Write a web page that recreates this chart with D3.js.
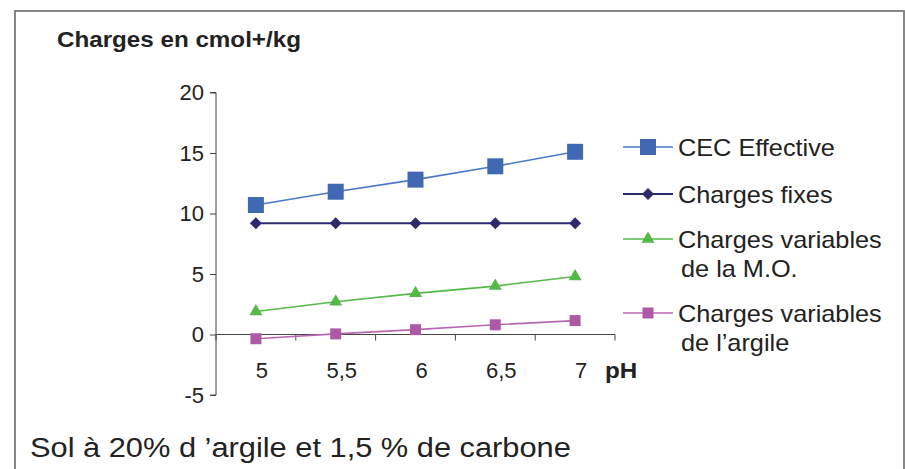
<!DOCTYPE html>
<html>
<head>
<meta charset="utf-8">
<script src="https://cdn.jsdelivr.net/npm/d3@7"></script>
<style>
  body { margin: 0; background: #fff; }
  svg text { font-family: "Liberation Sans", Arial, sans-serif; fill: #222; }
</style>
</head>
<body>
<div id="chart"></div>
<script>
var categories = ["5", "5,5", "6", "6,5", "7"];
var cecEffective = [10.7, 11.8, 12.8, 13.9, 15.1];
var chargesFixes = [9.2, 9.2, 9.2, 9.2, 9.2];
var variablesMO = [1.9, 2.7, 3.4, 4.0, 4.8];
var variablesArgile = [-0.35, 0.05, 0.4, 0.8, 1.15];
var yTicks = [-5, 0, 5, 10, 15, 20];

var width = 905;
var height = 469;
var stretch = 1.1; // the original lettering is a bit wider than Liberation Sans

var series = [
  { name: ["CEC Effective"], values: cecEffective, color: "#4168b3", line: "#4a78c8", marker: "square", size: 16 },
  { name: ["Charges fixes"], values: chargesFixes, color: "#2c2a6c", line: "#2c2a6c", marker: "diamond", size: 12 },
  { name: ["Charges variables", "de la M.O."], values: variablesMO, color: "#55b947", line: "#55b947", marker: "triangle", size: 13 },
  { name: ["Charges variables", "de l\u2019argile"], values: variablesArgile, color: "#ad59a6", line: "#b868b0", marker: "square", size: 11 }
];

var svg = d3.select("#chart").append("svg")
  .attr("width", width)
  .attr("height", height);

function label(px, py, str, size, bold) {
  return svg.append("text")
    .attr("transform", "translate(" + px + "," + py + ") scale(" + stretch + ",1)")
    .attr("font-size", size)
    .attr("font-weight", bold ? "bold" : "normal")
    .text(str);
}

// frame
svg.append("rect")
  .attr("x", 15).attr("y", 11)
  .attr("width", 889).attr("height", 470)
  .attr("fill", "none")
  .attr("stroke", "#7a7a7a")
  .attr("stroke-width", 1.8);

var x = d3.scaleBand().domain(categories).range([216, 615]);
var y = d3.scaleLinear().domain([-5, 20]).range([395, 92.5]);

// y axis
var yAxis = svg.append("g")
  .attr("transform", "translate(216,0)")
  .call(d3.axisLeft(y).tickValues(yTicks).tickSize(6).tickPadding(6).tickFormat(function (d) { return d; }));
yAxis.select(".domain").attr("stroke", "#444").attr("d", "M-6," + y(-5) + "H0V" + y(20) + "H-6");
yAxis.selectAll(".tick line").attr("stroke", "#444");
yAxis.selectAll(".tick text").attr("font-size", 22).attr("fill", "#222");

// x axis at zero
var xAxis = svg.append("g")
  .attr("transform", "translate(0," + y(0) + ")")
  .call(d3.axisBottom(x).tickSize(0).tickPadding(28));
xAxis.select(".domain").attr("stroke", "#444").attr("d", "M216,0H615");
xAxis.selectAll(".tick text").attr("font-size", 22).attr("fill", "#222").attr("dx", 6);
var bounds = categories.map(function (c) { return x(c); }).concat([x.range()[1]]);
xAxis.selectAll(".bound").data(bounds).enter().append("line")
  .attr("class", "bound")
  .attr("x1", function (d) { return d; }).attr("x2", function (d) { return d; })
  .attr("y1", 0).attr("y2", 6)
  .attr("stroke", "#444");

label(605, 378, "pH", 22, true);
label(57, 47, "Charges en cmol+/kg", 22, true);
label(30, 457, "Sol \u00e0 20% d \u2019argile et 1,5 % de carbone", 28, false);

function symbolFor(s) {
  if (s.marker === "square") return d3.symbol(d3.symbolSquare, s.size * s.size);
  // diamond2 half-diagonal is 0.62625 * sqrt(size)
  if (s.marker === "diamond") return d3.symbol(d3.symbolDiamond2, Math.pow(s.size / 2 / 0.62625, 2));
  return d3.symbol(d3.symbolTriangle, s.size * s.size * 0.433);
}

var line = d3.line()
  .x(function (d, i) { return x(categories[i]) + x.bandwidth() / 2; })
  .y(function (d) { return y(d); });

series.forEach(function (s) {
  svg.append("path")
    .attr("d", line(s.values))
    .attr("fill", "none")
    .attr("stroke", s.line)
    .attr("stroke-width", s.marker === "diamond" ? 2 : 1.6);
  var sym = symbolFor(s);
  svg.selectAll(null).data(s.values).enter().append("path")
    .attr("d", sym)
    .attr("transform", function (d, i) {
      return "translate(" + (x(categories[i]) + x.bandwidth() / 2) + "," + y(d) + ")";
    })
    .attr("fill", s.color);
});

// legend
var legendY = [147, 194, 239, 313];
series.forEach(function (s, i) {
  var ly = legendY[i];
  svg.append("line").attr("x1", 623).attr("x2", 673).attr("y1", ly).attr("y2", ly)
    .attr("stroke", s.line).attr("stroke-width", s.marker === "diamond" ? 2 : 1.6);
  svg.append("path").attr("d", symbolFor(s)).attr("transform", "translate(648," + ly + ")")
    .attr("fill", s.color);
  s.name.forEach(function (t, j) {
    label(j === 0 ? 678 : 681, ly + 9 + j * 28.5, t, 23, false);
  });
});
</script>
</body>
</html>
